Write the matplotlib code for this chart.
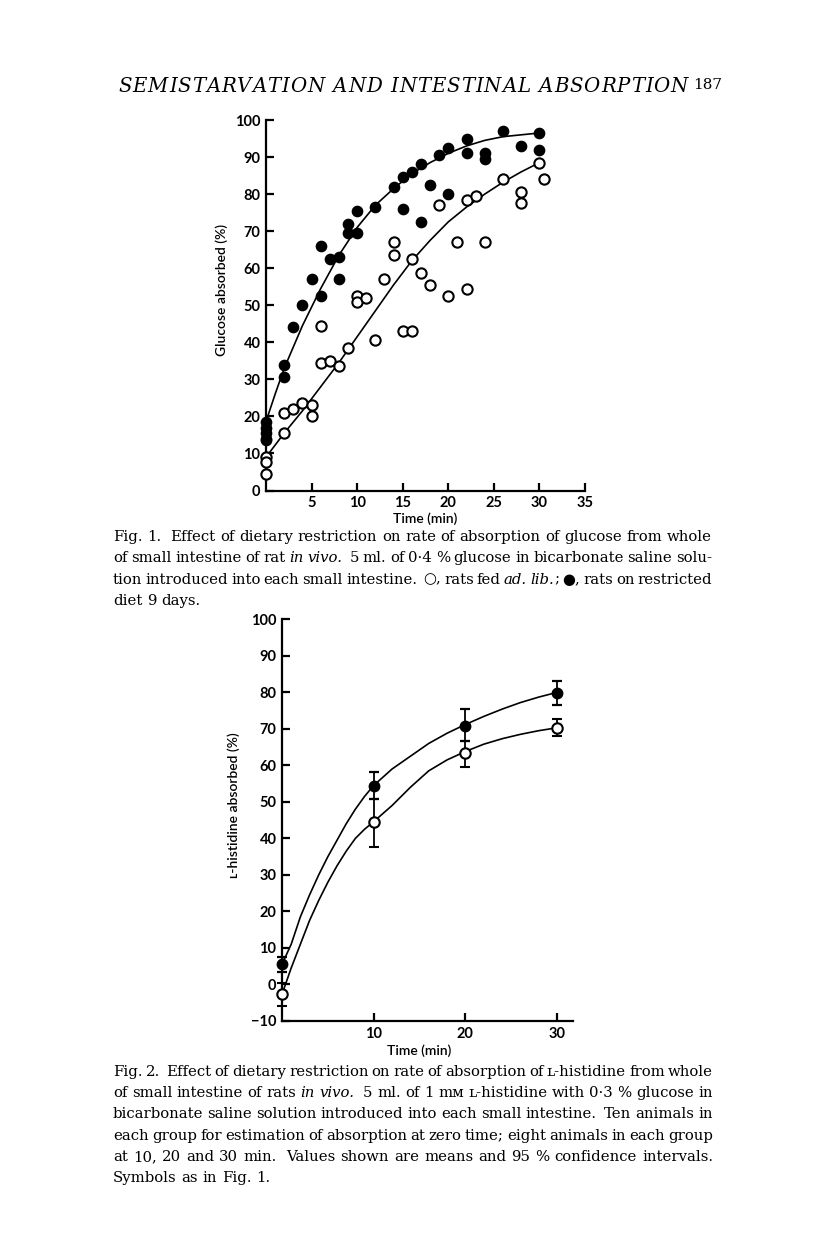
import matplotlib
matplotlib.use('Agg')
import matplotlib.pyplot as plt

W, H = 816, 1234

# ---- Fig. 1: glucose absorbed, single animals ----
fed_t = [0, 0, 0, 2, 2, 3, 4, 5, 5, 6, 6, 7, 8, 9, 10, 10, 11, 12, 13, 14, 14, 15, 16, 16,
         17, 18, 19, 20, 21, 22, 22, 23, 24, 26, 28, 28, 30, 30.5]
fed_v = [9, 7.8, 4.5, 15.5, 21, 22, 23.5, 23, 20, 34.5, 44.5, 35, 33.5, 38.5, 52.5, 51, 52, 40.5,
         57, 67, 63.5, 43, 43, 62.5, 58.7, 55.5, 77, 52.5, 67, 54.5, 78.5, 79.5, 67, 84, 80.5,
         77.5, 88.5, 84]
restr_t = [0, 0, 0, 0, 0, 2, 2, 3, 4, 5, 6, 6, 7, 8, 8, 9, 9, 10, 10, 12, 14, 15, 15, 16,
           17, 17, 18, 19, 20, 20, 22, 22, 24, 24, 26, 28, 30, 30]
restr_v = [18.5, 17, 15.5, 14, 13.5, 34, 30.5, 44, 50, 57, 66, 52.5, 62.5, 63, 57, 72, 69.5,
           75.5, 69.5, 76.5, 82, 84.5, 76, 86, 88, 72.5, 82.5, 90.5, 92.5, 80, 95, 91, 91,
           89.5, 97, 93, 96.5, 92]
# hand drawn curves
fed_curve_t = [0, 2, 4, 6, 8, 10, 12, 14, 16, 18, 20, 22, 24, 26, 28, 30]
fed_curve_v = [9, 15.5, 21.5, 28, 34.5, 41.5, 48.5, 55.5, 62, 67.5, 72.5, 76.5, 80, 83.2, 86, 88.5]
restr_curve_t = [0, 1, 2, 4, 6, 8, 10, 12, 14, 16, 18, 20, 22, 24, 26, 28, 30]
restr_curve_v = [18.6, 26, 33, 44.5, 54.5, 63.5, 71, 77, 81.5, 85.5, 88.5, 91, 93, 94.5, 95.5,
                 96, 96.5]

# ---- Fig. 2: L-histidine, means and 95% limits ----
hist_t = [0, 10, 20, 30]
hist_fed = [-2.7, 44.6, 63.5, 70.3]
hist_fed_lo = [-5.8, 37.7, 59.6, 68.0]
hist_fed_hi = [0.3, 50.9, 66.8, 72.6]
hist_restr = [5.5, 54.4, 70.9, 79.8]
hist_restr_lo = [3.3, 50.9, 66.7, 76.5]
hist_restr_hi = [7.5, 58.2, 75.3, 83.2]
hfed_curve_t = [0, 1, 2, 3, 4, 5, 6, 7, 8, 9, 10, 12, 14, 16, 18, 20, 22, 24, 26, 28, 30]
hfed_curve_v = [-2.7, 4.5, 11, 17.5, 23, 28, 32.5, 36.5, 40, 42.5, 44.6, 49, 54, 58.5, 61.5,
                63.8, 65.8, 67.3, 68.5, 69.5, 70.3]
hrestr_curve_t = [0, 1, 2, 3, 4, 5, 6, 7, 8, 9, 10, 12, 14, 16, 18, 20, 22, 24, 26, 28, 30]
hrestr_curve_v = [5.5, 11, 18.5, 24.5, 30, 35, 39.5, 44, 48, 51.5, 54.5, 59, 62.5, 66, 68.8,
                  71.2, 73.4, 75.4, 77.2, 78.7, 80]

TICK_FONT = dict(family='Lato', weight='bold', size=10.5)
LABEL_FONT = dict(family=['Lato', 'DejaVu Sans'], weight='semibold', size=10)
SERIF = ['DejaVu Serif', 'DejaVu Sans']


def px_axes(fig, left, right, top, bottom):
    # axes box given in page pixels
    return fig.add_axes([left / W, 1 - bottom / H, (right - left) / W, (bottom - top) / H])


def style_axes(ax):
    for side in ['top', 'right']:
        ax.spines[side].set_visible(False)
    for side in ['left', 'bottom']:
        ax.spines[side].set_linewidth(1.6)
    ax.tick_params(direction='in', length=6, width=1.6, pad=4)
    for lab in ax.get_xticklabels() + ax.get_yticklabels():
        lab.set_fontfamily(TICK_FONT['family'])
        lab.set_fontweight(TICK_FONT['weight'])
        lab.set_fontsize(TICK_FONT['size'])


def tracked_text(fig, s, x0, x1, y, size, **kw):
    '''Letter-spaced line spread from x0 to x1 (pixels).'''
    renderer = fig.canvas.get_renderer()
    chars = []
    total = 0
    for c in s:
        t = fig.text(0, 0, c, fontsize=size, va='center', ha='left', **kw)
        w = t.get_window_extent(renderer).width if c != ' ' else size * 100 / 72 * 0.33
        chars.append((t, w))
        total += w
    extra = (x1 - x0 - total) / (len(s) - 1)
    x = x0
    for t, w in chars:
        t.set_position((x / W, 1 - y / H))
        x += w + extra


def draw_paragraph(fig, lines, x0, x1, y0, dy, size):
    '''Justified caption; *...* toggles italic.'''
    renderer = fig.canvas.get_renderer()
    italic = False
    for i, (line, justify) in enumerate(lines):
        words = []
        for word in line.split(' '):
            pieces = []
            for j, chunk in enumerate(word.split('*')):
                if j > 0:
                    italic = not italic
                if chunk:
                    pieces.append((chunk, italic))
            words.append(pieces)
        texts = []
        total = 0
        for pieces in words:
            wt = []
            for chunk, it in pieces:
                t = fig.text(0, 0, chunk, fontsize=size, family=SERIF,
                             style='italic' if it else 'normal', va='center', ha='left')
                w = t.get_window_extent(renderer).width
                wt.append((t, w))
                total += w
            texts.append(wt)
        sw = size * 100 / 72 * 0.32
        gap = (x1 - x0 - total) / (len(words) - 1) if justify and len(words) > 1 else sw
        x = x0
        y = y0 + i * dy
        for wt in texts:
            for t, w in wt:
                t.set_position((x / W, 1 - y / H))
                x += w
            x += gap


fig = plt.figure(figsize=(W / 100, H / 100), dpi=100)

# page header
tracked_text(fig, 'SEMISTARVATION AND INTESTINAL ABSORPTION', 118, 688, 87, 14.2,
             family=SERIF, style='italic')
fig.text(722 / W, 1 - 85 / H, '187', family=SERIF, fontsize=11, va='center', ha='right')

# Fig. 1
ax1 = px_axes(fig, 266, 585, 120, 490.5)
ax1.plot(fed_curve_t, fed_curve_v, color='black', lw=1.2, zorder=2)
ax1.plot(restr_curve_t, restr_curve_v, color='black', lw=1.2, zorder=2)
ax1.plot(fed_t, fed_v, 'o', ms=7.4, mfc='white', mec='black', mew=1.5, clip_on=False, zorder=3)
ax1.plot(restr_t, restr_v, 'o', ms=7.4, mfc='black', mec='black', clip_on=False, zorder=3)
ax1.set_xlim(0, 35)
ax1.set_ylim(0, 100)
ax1.set_xticks(range(5, 36, 5))
ax1.set_yticks(range(0, 101, 10))
style_axes(ax1)
ax1.set_xlabel('Time (min)', **LABEL_FONT)
ax1.set_ylabel('Glucose absorbed (%)', **LABEL_FONT)
ax1.xaxis.set_label_coords(0.498, -0.058)
ax1.yaxis.set_label_coords(-0.12, 0.54)

# Fig. 2
ax2 = px_axes(fig, 282, 572.7, 619.3, 1021)
ax2.plot(hfed_curve_t, hfed_curve_v, color='black', lw=1.2, zorder=2)
ax2.plot(hrestr_curve_t, hrestr_curve_v, color='black', lw=1.2, zorder=2)
ax2.errorbar(hist_t, hist_restr,
             yerr=[[m - lo for m, lo in zip(hist_restr, hist_restr_lo)],
                   [hi - m for m, hi in zip(hist_restr, hist_restr_hi)]],
             fmt='o', ms=7.5, mfc='black', mec='black', ecolor='black', elinewidth=1.3,
             capsize=3.5, capthick=1.6, clip_on=False, zorder=3)
ax2.errorbar(hist_t, hist_fed,
             yerr=[[m - lo for m, lo in zip(hist_fed, hist_fed_lo)],
                   [hi - m for m, hi in zip(hist_fed, hist_fed_hi)]],
             fmt='o', ms=7.5, mfc='white', mec='black', mew=1.5, ecolor='black', elinewidth=1.3,
             capsize=3.5, capthick=1.6, clip_on=False, zorder=4)
ax2.set_xlim(0, 31.7)
ax2.set_ylim(-10, 100)
ax2.set_xticks([10, 20, 30])
ax2.set_yticks(range(-10, 101, 10))
ax2.set_yticklabels(['\u221210'] + [str(v) for v in range(0, 101, 10)])
style_axes(ax2)
ax2.set_xlabel('Time (min)', **LABEL_FONT)
ax2.set_ylabel('\u029f-histidine absorbed (%)', **LABEL_FONT)
ax2.xaxis.set_label_coords(0.471, -0.058)
ax2.yaxis.set_label_coords(-0.145, 0.538)

# captions
cap1 = [
    ('Fig. 1.  Effect of dietary restriction on rate of absorption of glucose from whole', True),
    ('of small intestine of rat *in vivo.*  5 ml. of 0\u00b74 % glucose in bicarbonate saline solu-', True),
    ('tion introduced into each small intestine.  \u25cb, rats fed *ad. lib.*; \u25cf, rats on restricted', True),
    ('diet 9 days.', False),
]
cap2 = [
    ('Fig. 2.  Effect of dietary restriction on rate of absorption of \u029f-histidine from whole', True),
    ('of small intestine of rats *in vivo.*  5 ml. of 1 m\u1d0d \u029f-histidine with 0\u00b73 % glucose in', True),
    ('bicarbonate saline solution introduced into each small intestine.  Ten animals in', True),
    ('each group for estimation of absorption at zero time; eight animals in each group', True),
    ('at 10, 20 and 30 min.  Values shown are means and 95 % confidence intervals.', True),
    ('Symbols as in Fig. 1.', False),
]
draw_paragraph(fig, cap1, 113, 712, 537, 21.3, 10.7)
draw_paragraph(fig, cap2, 113, 713, 1072, 21.2, 10.7)

fig.savefig('out.png', dpi=100)
plt.close(fig)
